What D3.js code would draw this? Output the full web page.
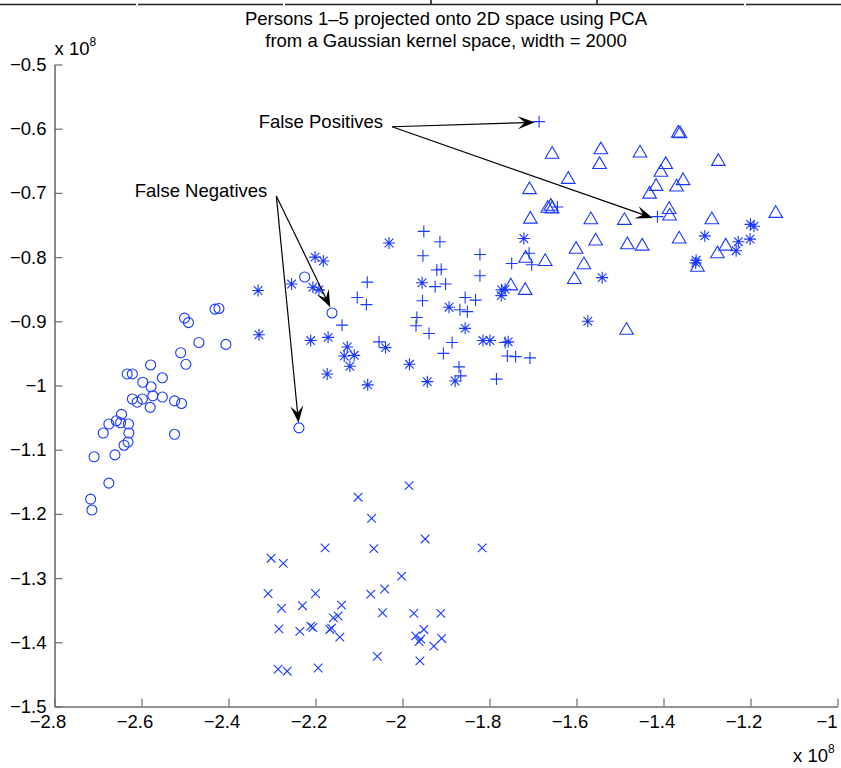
<!DOCTYPE html>
<html>
<head>
<meta charset="utf-8">
<script src="https://cdn.jsdelivr.net/npm/d3@7"></script>
<style>
  html, body { margin: 0; padding: 0; background: #fff; }
  svg { display: block; }
  text { font-family: "Liberation Sans", Arial, Helvetica, sans-serif; fill: #000; }
</style>
</head>
<body>
<svg id="chart" width="841" height="768"></svg>
<script>
// ---- Data (values in units of 1e8) ----
const titleLines = ["Persons 1\u20135 projected onto 2D space using PCA",
                    "from a Gaussian kernel space, width = 2000"];
const xTicks = [-2.8, -2.6, -2.4, -2.2, -2, -1.8, -1.6, -1.4, -1.2, -1];
const xTickLabels = ["\u22122.8", "\u22122.6", "\u22122.4", "\u22122.2", "\u22122", "\u22121.8", "\u22121.6", "\u22121.4", "\u22121.2", "\u22121"];
const yTicks = [-0.5, -0.6, -0.7, -0.8, -0.9, -1, -1.1, -1.2, -1.3, -1.4, -1.5];
const yTickLabels = ["\u22120.5", "\u22120.6", "\u22120.7", "\u22120.8", "\u22120.9", "\u22121", "\u22121.1", "\u22121.2", "\u22121.3", "\u22121.4", "\u22121.5"];

// circles ('o')
const personCircleX = [-2.501,-2.492,-2.431,-2.422,-2.468,-2.406,-2.510,-2.498,-2.579,-2.633,-2.621,-2.552,-2.597,-2.578,-2.574,-2.552,-2.621,-2.610,-2.598,-2.580,-2.524,-2.508,-2.646,-2.658,-2.648,-2.630,-2.675,-2.688,-2.629,-2.631,-2.640,-2.524,-2.661,-2.709,-2.675,-2.717,-2.714,-2.225,-2.162,-2.238];
const personCircleY = [-0.895,-0.902,-0.881,-0.880,-0.933,-0.936,-0.949,-0.967,-0.968,-0.982,-0.982,-0.988,-0.995,-1.002,-1.016,-1.018,-1.021,-1.026,-1.021,-1.034,-1.024,-1.028,-1.045,-1.055,-1.058,-1.060,-1.060,-1.074,-1.074,-1.088,-1.093,-1.076,-1.108,-1.111,-1.152,-1.177,-1.194,-0.831,-0.887,-1.066];

// asterisks ('*')
const personStarX = [-2.332,-2.330,-2.255,-2.201,-2.182,-2.206,-2.192,-2.211,-2.171,-2.127,-2.134,-2.111,-2.121,-2.173,-2.080,-2.031,-1.955,-1.984,-1.943,-1.879,-2.039,-1.893,-1.856,-1.815,-1.799,-1.757,-1.772,-1.764,-1.773,-1.721,-1.541,-1.574,-1.325,-1.326,-1.305,-1.200,-1.192,-1.228,-1.233,-1.201];
const personStarY = [-0.852,-0.921,-0.842,-0.800,-0.806,-0.847,-0.851,-0.930,-0.925,-0.940,-0.954,-0.953,-0.970,-0.982,-0.999,-0.778,-0.840,-0.967,-0.994,-0.993,-0.941,-0.878,-0.911,-0.930,-0.930,-0.932,-0.851,-0.850,-0.860,-0.771,-0.832,-0.900,-0.805,-0.809,-0.767,-0.749,-0.752,-0.776,-0.790,-0.772];

// plus signs ('+')
const personPlusX = [-1.686,-1.414,-2.139,-2.104,-2.083,-2.081,-2.054,-1.951,-1.914,-1.953,-1.822,-1.921,-1.911,-1.901,-1.925,-1.822,-1.856,-1.832,-1.954,-1.868,-1.851,-1.967,-1.969,-1.939,-1.886,-1.906,-1.764,-1.759,-1.740,-1.707,-1.870,-1.866,-1.784,-1.709,-1.749,-1.703,-1.644];
const personPlusY = [-0.589,-0.737,-0.906,-0.863,-0.874,-0.839,-0.932,-0.760,-0.776,-0.798,-0.796,-0.820,-0.819,-0.842,-0.846,-0.829,-0.863,-0.867,-0.868,-0.882,-0.885,-0.894,-0.907,-0.919,-0.933,-0.950,-0.933,-0.954,-0.955,-0.957,-0.971,-0.985,-0.990,-0.794,-0.810,-0.812,-0.722];

// triangles ('^')
const personTriangleX = [-1.706,-1.666,-1.659,-1.656,-1.717,-1.672,-1.751,-1.718,-1.601,-1.605,-1.656,-1.544,-1.547,-1.454,-1.366,-1.362,-1.395,-1.406,-1.355,-1.417,-1.432,-1.370,-1.619,-1.708,-1.567,-1.490,-1.387,-1.386,-1.364,-1.556,-1.483,-1.449,-1.583,-1.485,-1.274,-1.289,-1.142,-1.257,-1.276,-1.322];
const personTriangleY = [-0.739,-0.722,-0.719,-0.723,-0.800,-0.805,-0.843,-0.850,-0.786,-0.833,-0.638,-0.631,-0.654,-0.636,-0.605,-0.606,-0.654,-0.666,-0.679,-0.688,-0.700,-0.689,-0.677,-0.693,-0.740,-0.741,-0.724,-0.734,-0.770,-0.773,-0.779,-0.781,-0.810,-0.912,-0.649,-0.740,-0.730,-0.781,-0.793,-0.814];

// crosses ('x')
const personCrossX = [-1.985,-2.102,-2.071,-1.948,-2.178,-2.066,-2.302,-2.274,-2.002,-2.041,-2.073,-2.309,-2.200,-2.278,-2.230,-2.140,-2.159,-2.148,-2.046,-1.974,-1.912,-2.284,-2.236,-2.211,-2.206,-2.167,-2.163,-2.144,-1.970,-1.951,-1.958,-1.962,-1.928,-1.910,-2.058,-1.960,-2.286,-2.265,-2.194,-1.817];
const personCrossY = [-1.156,-1.174,-1.207,-1.239,-1.253,-1.254,-1.269,-1.277,-1.297,-1.317,-1.325,-1.324,-1.324,-1.347,-1.343,-1.342,-1.362,-1.359,-1.354,-1.355,-1.355,-1.379,-1.383,-1.375,-1.377,-1.380,-1.378,-1.392,-1.390,-1.380,-1.395,-1.399,-1.406,-1.394,-1.422,-1.429,-1.442,-1.445,-1.440,-1.253];

// annotations (text + arrow tail/tips, data units)
const annotationLabels = ["False Positives", "False Negatives"];
const annotationTailX = [-2.024, -2.290];
const annotationTailY = [-0.597, -0.705];
const annotationTipX = [[-1.696, -1.425], [-2.166, -2.239]];
const annotationTipY = [[-0.590, -0.739], [-0.878, -1.058]];

// ---- Drawing ----
const svg = d3.select("#chart");
const margin = {left: 54.5, right: 837.5, top: 64.5, bottom: 706.5};
const x = d3.scaleLinear().domain([-2.8, -1]).range([margin.left, margin.right]);
const y = d3.scaleLinear().domain([-1.5, -0.5]).range([margin.bottom, margin.top]);
const blue = "#1838ff";
const axisGray = "#6e6e6e";
const fs = 18.5;

// stray header fragment at top of the image
const hdr = svg.append("g").attr("stroke", "#222").attr("stroke-width", 1.6);
[[0,136],[138,283],[285,744],[746,841]].forEach(s => hdr.append("line").attr("x1", s[0]).attr("x2", s[1]).attr("y1", 4.5).attr("y2", 4.5));
[431, 597].forEach(v => hdr.append("line").attr("x1", v).attr("x2", v).attr("y1", 0).attr("y2", 4.5));

// title
const tcx = (margin.left + margin.right) / 2;
svg.append("text").attr("x", tcx).attr("y", 25).attr("text-anchor", "middle").attr("font-size", fs).text(titleLines[0]);
svg.append("text").attr("x", tcx).attr("y", 47).attr("text-anchor", "middle").attr("font-size", fs).text(titleLines[1]);

// axes
const xAxis = d3.axisBottom(x).tickValues(xTicks).tickSizeInner(-8).tickSizeOuter(0).tickPadding(8)
  .tickFormat((d, i) => xTickLabels[i]);
const yAxis = d3.axisLeft(y).tickValues(yTicks).tickSizeInner(-8).tickSizeOuter(0).tickPadding(8)
  .tickFormat((d, i) => yTickLabels[i]);

const gx = svg.append("g").attr("transform", `translate(0,${margin.bottom})`).call(xAxis);
const gy = svg.append("g").attr("transform", `translate(${margin.left},0)`).call(yAxis);
[gx, gy].forEach(g => {
  g.select(".domain").attr("stroke", axisGray).attr("stroke-width", 1.6);
  g.selectAll(".tick line").attr("stroke", axisGray).attr("stroke-width", 1.2);
  g.selectAll(".tick text").attr("font-size", fs).attr("fill", "#000")
    .attr("font-family", "'Liberation Sans', Arial, Helvetica, sans-serif");
});
gx.selectAll(".tick text").attr("dx", (d, i) => i === xTicks.length - 1 ? -11 : -7).attr("dy", "0.75em");

// exponent labels
function expLabel(xp, yp) {
  const t = svg.append("text").attr("x", xp).attr("y", yp).attr("font-size", fs);
  t.append("tspan").text("x 10");
  t.append("tspan").attr("dy", -9).attr("font-size", 12).text("8");
}
expLabel(margin.left, 55);
expLabel(793, 762);

// markers
const pts = g => g.attr("fill", "none").attr("stroke", blue).attr("stroke-width", 1.1);

const circ = svg.append("g").call(pts);
circ.selectAll("circle").data(d3.range(personCircleX.length)).join("circle")
  .attr("cx", i => x(personCircleX[i])).attr("cy", i => y(personCircleY[i])).attr("r", 5);

const plusPath = s => `M${-s},0H${s}M0,${-s}V${s}`;
const crossPath = s => `M${-s},${-s}L${s},${s}M${-s},${s}L${s},${-s}`;
const starPath = s => plusPath(s) + crossPath(s * 0.72);
const triPath = s => `M0,${-s}L${s*1.05},${s*0.8}L${-s*1.05},${s*0.8}Z`;

function drawPaths(xs, ys, d) {
  const g = svg.append("g").call(pts);
  g.selectAll("path").data(d3.range(xs.length)).join("path")
    .attr("transform", i => `translate(${x(xs[i])},${y(ys[i])})`).attr("d", d);
}
drawPaths(personStarX, personStarY, starPath(6));
drawPaths(personPlusX, personPlusY, plusPath(6));
drawPaths(personTriangleX, personTriangleY, triPath(6.5));
drawPaths(personCrossX, personCrossY, crossPath(4.3));

// annotations
const ann = svg.append("g");
function arrow(x0, y0, x1, y1) {
  const L = 17, Wd = 6.5, notch = 10;
  const ang = Math.atan2(y1 - y0, x1 - x0);
  const c = Math.cos(ang), s = Math.sin(ang);
  const pt = (a, b) => [x1 - a * c - b * s, y1 - a * s + b * c];
  const nb = pt(notch, 0);
  ann.append("line").attr("x1", x0).attr("y1", y0).attr("x2", nb[0]).attr("y2", nb[1])
    .attr("stroke", "#000").attr("stroke-width", 1.2);
  const poly = [[x1, y1], pt(L, Wd), nb, pt(L, -Wd)];
  ann.append("path").attr("d", "M" + poly.map(p => p.join(",")).join("L") + "Z").attr("fill", "#000");
}
annotationLabels.forEach((lab, k) => {
  const tx = x(annotationTailX[k]), ty = y(annotationTailY[k]);
  ann.append("text").attr("x", tx - 9).attr("y", ty + 1).attr("text-anchor", "end")
    .attr("font-size", fs).text(lab);
  annotationTipX[k].forEach((tip, j) => arrow(tx, ty, x(tip), y(annotationTipY[k][j])));
});
</script>
</body>
</html>
